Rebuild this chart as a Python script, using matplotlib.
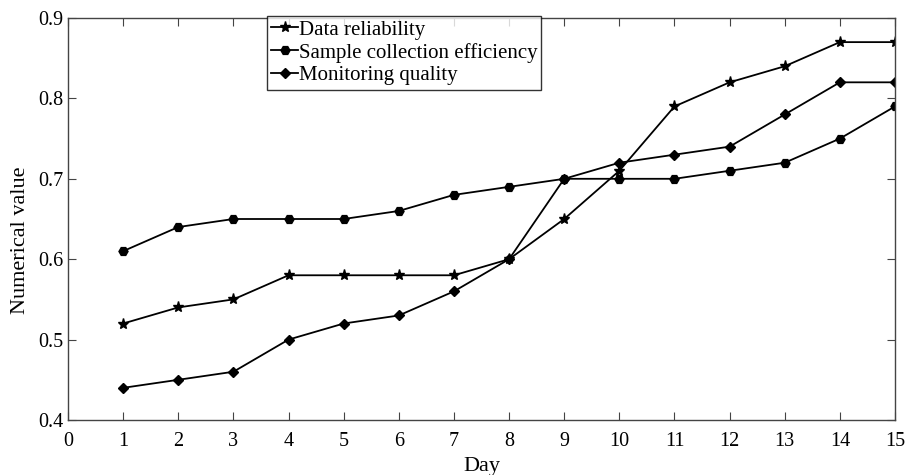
import matplotlib.pyplot as plt

days = list(range(1, 16))
data_reliability = [0.52, 0.54, 0.55, 0.58, 0.58, 0.58, 0.58, 0.60, 0.65, 0.71, 0.79, 0.82, 0.84, 0.87, 0.87]
sample_efficiency = [0.61, 0.64, 0.65, 0.65, 0.65, 0.66, 0.68, 0.69, 0.70, 0.70, 0.70, 0.71, 0.72, 0.75, 0.79]
monitoring_quality = [0.44, 0.45, 0.46, 0.50, 0.52, 0.53, 0.56, 0.60, 0.70, 0.72, 0.73, 0.74, 0.78, 0.82, 0.82]

plt.rcParams["font.family"] = ["Liberation Serif", "DejaVu Serif"]

fig = plt.figure(figsize=(9.08, 4.75), dpi=100)
ax = fig.add_axes([0.0749, 0.1158, 0.9108, 0.8463])

ax.plot(days, data_reliability, color="black", lw=1.3, marker="*", ms=8,
        label="Data reliability")
ax.plot(days, sample_efficiency, color="black", lw=1.3, marker="H", ms=6.5,
        label="Sample collection efficiency")
ax.plot(days, monitoring_quality, color="black", lw=1.3, marker="D", ms=5,
        label="Monitoring quality")

ax.set_xlim(0, 15)
ax.set_ylim(0.4, 0.9)
ax.set_xticks(range(0, 16))
ax.set_yticks([0.4, 0.5, 0.6, 0.7, 0.8, 0.9])
ax.set_yticklabels(["0.4", "0.5", "0.6", "0.7", "0.8", "0.9"])
ax.tick_params(direction="in", top=True, right=True, labelsize=14.5, length=6,
               color="#444444")
ax.tick_params(axis="x", pad=9)
for s in ax.spines.values():
    s.set_color("#444444")
    s.set_linewidth(1.0)
ax.set_xlabel("Day", fontsize=16, labelpad=4)
ax.set_ylabel("Numerical value", fontsize=16, labelpad=3)
ax.yaxis.set_label_coords(-0.046, 0.448)

leg = ax.legend(loc="upper left", bbox_to_anchor=(0.241, 1.005), borderaxespad=0,
                fontsize=15, frameon=True, fancybox=False, edgecolor="black",
                handlelength=1.25, handletextpad=0.05, labelspacing=0.15,
                borderpad=0.2)
leg.get_frame().set_linewidth(1.0)

fig.savefig("out.png", dpi=100)
